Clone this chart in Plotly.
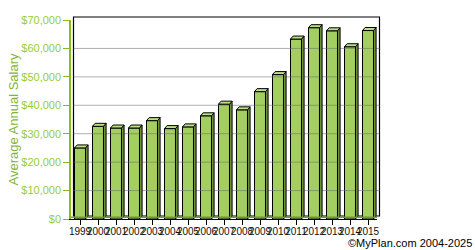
import plotly.graph_objects as go

years = ["1999", "2000", "2001", "2002", "2003", "2004", "2005", "2006", "2007",
         "2008", "2009", "2010", "2011", "2012", "2013", "2014", "2015"]
salaries = [25000, 32600, 32000, 32000, 34600, 31800, 32400, 36300, 40400,
            38400, 44800, 50800, 63300, 67300, 66200, 60600, 66300]
y_ticks = [0, 10000, 20000, 30000, 40000, 50000, 60000, 70000]
y_ticktext = ["$0", "$10,000", "$20,000", "$30,000", "$40,000", "$50,000",
              "$60,000", "$70,000"]

W, H = 475, 250
ML, MR, MT, MB = 71, 98, 20, 31
PW, PH = W - ML - MR, H - MT - MB
YMAX = 70000
NCAT = len(years)

bar_w = 0.61
ddx = 2.6 / (PW / NCAT)          # depth offset in category units
ddy = 3.0 / PH * YMAX            # depth offset in value units

front = "#a3cf62"
side = "#6e8f3c"
top = "#bddf86"

xs = list(range(NCAT))
fig = go.Figure()
fig.add_trace(go.Bar(x=xs, y=salaries, width=bar_w,
                     marker=dict(color=front, line=dict(color="black", width=1)),
                     hoverinfo="skip"))

shapes = []
# back wall frame
pdx, pdy = 2.5 / PW, 3.0 / PH
shapes.append(dict(type="rect", xref="paper", yref="paper", x0=pdx, x1=1 + pdx,
                   y0=pdy, y1=1 + pdy, line=dict(color="black", width=1.2),
                   layer="below"))
# gridlines (drawn over bars, semi-transparent)
for t in y_ticks[1:-1]:
    shapes.append(dict(type="line", xref="paper", yref="y", x0=pdx, x1=1 + pdx,
                       y0=t, y1=t, line=dict(color="rgba(110,110,110,0.55)", width=1),
                       layer="above"))
for i, v in zip(xs, salaries):
    xl, xr = i - bar_w / 2, i + bar_w / 2
    shapes.append(dict(type="path", xref="x", yref="y",
                       path=f"M{xr},0 L{xr+ddx},{ddy} L{xr+ddx},{v+ddy} L{xr},{v} Z",
                       fillcolor=side, line=dict(color="black", width=1), layer="above"))
    shapes.append(dict(type="path", xref="x", yref="y",
                       path=f"M{xl},{v} L{xl+ddx},{v+ddy} L{xr+ddx},{v+ddy} L{xr},{v} Z",
                       fillcolor=top, line=dict(color="black", width=1), layer="above"))
# floor line
shapes.append(dict(type="line", xref="paper", yref="y", x0=0, x1=1, y0=ddy * 0.6,
                   y1=ddy * 0.6, line=dict(color="#6f9a2c", width=1.5), layer="above"))

fig.update_layout(
    width=W, height=H, margin=dict(l=ML, r=MR, t=MT, b=MB),
    paper_bgcolor="white", plot_bgcolor="white", showlegend=False,
    shapes=shapes,
    font=dict(family="Liberation Sans, Arial, sans-serif"),
    xaxis=dict(range=[-0.5, NCAT - 0.5], tickmode="array", tickvals=xs, ticktext=years,
               showgrid=False, zeroline=False, showline=True, linecolor="black",
               linewidth=1, ticks="outside", ticklen=5, tickcolor="black",
               ticklabelstandoff=-2, automargin=False,
               tickfont=dict(size=10, color="#111111"), tickangle=0, fixedrange=True),
    yaxis=dict(range=[0, YMAX], tickmode="array", tickvals=y_ticks, ticktext=y_ticktext,
               showgrid=False, zeroline=False, automargin=False,
               showline=True, linecolor="#88bb22", linewidth=1.5, ticks="outside",
               ticklen=6, tickcolor="#88bb22",
               tickfont=dict(size=11, color="#99cc33"),
               fixedrange=True),
)
fig.add_annotation(text="Average Annual Salary", xref="paper", yref="paper",
                   x=-(ML - 13) / PW, y=0.5, xanchor="center", yanchor="middle",
                   textangle=-90, showarrow=False,
                   font=dict(size=13, color="#80b53a"))
fig.add_annotation(text="©MyPlan.com 2004-2025", xref="paper", yref="paper",
                   x=1 + 97 / PW, y=-(MB + 1) / PH, xanchor="right", yanchor="bottom",
                   showarrow=False, font=dict(size=11, color="black"))

fig.write_html("out.html", config={"displayModeBar": False})
